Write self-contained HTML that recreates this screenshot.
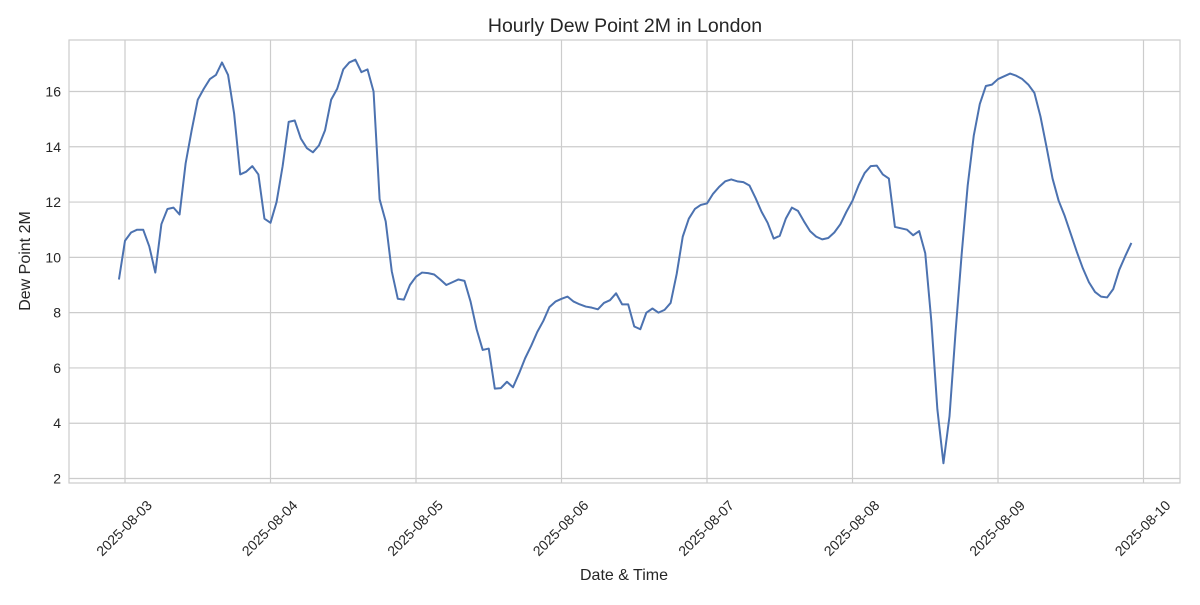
<!DOCTYPE html>
<html><head><meta charset="utf-8"><style>
body{margin:0;background:#fff;}
svg text{font-family:"Liberation Sans",Arial,sans-serif;fill:#262626;}
</style></head><body>
<svg id="chart" width="1200" height="600" xmlns="http://www.w3.org/2000/svg">
<rect width="1200" height="600" fill="#fff"/>
<text x="625" y="32" text-anchor="middle" font-size="19.5">Hourly Dew Point 2M in London</text>
<g id="grid"></g>
<g id="yticks"></g>
<g id="xticks"></g>
<rect x="69" y="40" width="1111" height="443" fill="none" stroke="#ccc" stroke-width="1.2"/>
<path id="line" fill="none" stroke="#4c72b0" stroke-width="2" stroke-linejoin="round"/>
<text x="624" y="580" text-anchor="middle" font-size="16">Date &amp; Time</text>
<text x="30" y="261" text-anchor="middle" font-size="16" transform="rotate(-90 30 261)">Dew Point 2M</text>
</svg>
<script>
const startHour = -1; // hours relative to 2025-08-03 00:00
const dewValues = [9.2,10.6,10.9,11.0,11.0,10.4,9.45,11.2,11.75,11.8,11.55,13.4,14.6,15.7,16.1,16.45,16.6,17.05,16.6,15.2,13.0,13.1,13.3,13.0,
11.4,11.25,12.0,13.3,14.9,14.95,14.3,13.95,13.8,14.05,14.6,15.7,16.1,16.8,17.05,17.15,16.7,16.8,16.0,12.1,11.3,9.5,8.5,8.47,
9.0,9.3,9.45,9.43,9.38,9.2,9.0,9.1,9.2,9.15,8.4,7.4,6.65,6.7,5.25,5.27,5.5,5.3,5.8,6.35,6.8,7.3,7.7,8.2,
8.4,8.5,8.58,8.4,8.3,8.22,8.18,8.12,8.35,8.45,8.7,8.3,8.3,7.5,7.4,8.0,8.15,8.0,8.1,8.35,9.4,10.75,11.4,11.75,
11.9,11.95,12.3,12.55,12.75,12.82,12.75,12.72,12.6,12.15,11.65,11.25,10.68,10.78,11.4,11.8,11.68,11.3,10.95,10.75,10.65,10.7,10.9,11.2,
11.65,12.05,12.6,13.05,13.3,13.32,13.0,12.85,11.1,11.05,11.0,10.8,10.95,10.15,7.7,4.5,2.55,4.25,7.3,10.1,12.6,14.4,15.55,16.2,
16.25,16.45,16.55,16.65,16.57,16.45,16.25,15.95,15.1,14.0,12.85,12.05,11.5,10.85,10.2,9.6,9.1,8.75,8.58,8.55,8.85,9.55,10.05,10.52];
const yTickValues = [2,4,6,8,10,12,14,16];
const xTickLabels = ["2025-08-03","2025-08-04","2025-08-05","2025-08-06","2025-08-07","2025-08-08","2025-08-09","2025-08-10"];

const NS="http://www.w3.org/2000/svg";
const L=69,R=1180,T=40,B=483;
const xDay0=125, pxPerDay=145.5;
function xScale(h){return xDay0 + h*pxPerDay/24;}
function yScale(v){return 478.5 - (v-2)*(478.5-91.5)/14;}
function mk(tag,attrs,parent){const e=document.createElementNS(NS,tag);for(const k in attrs)e.setAttribute(k,attrs[k]);parent.appendChild(e);return e;}
const grid=document.getElementById('grid'),yt=document.getElementById('yticks'),xt=document.getElementById('xticks');
yTickValues.forEach(v=>{
  const y=yScale(v);
  const g=mk('line',{x1:L,x2:R,y1:y,y2:y,stroke:'#ccc','stroke-width':1.2},grid);
  
  
  const t=mk('text',{x:L-8,y:y+5,'text-anchor':'end','font-size':14},yt);
  t.textContent=v;
  
  
});
xTickLabels.forEach((lab,i)=>{
  const x=xScale(i*24);
  const g=mk('line',{x1:x,x2:x,y1:T,y2:B,stroke:'#ccc','stroke-width':1.2},grid);
  
  
  const ax=x-1, ay=533;
  const t=mk('text',{x:ax,y:ay,'text-anchor':'middle','font-size':14,transform:`rotate(-45 ${ax} ${ay-5})`},xt);
  t.textContent=lab;
  
  
});
let d='';
dewValues.forEach((v,i)=>{d+=(i?'L':'M')+xScale(startHour+i).toFixed(2)+','+yScale(v).toFixed(2);});
document.getElementById('line').setAttribute('d',d);
</script>
</body></html>
